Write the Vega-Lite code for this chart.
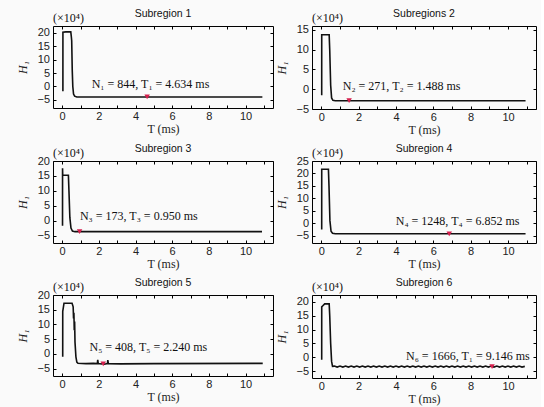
{
  "$schema": "https://vega.github.io/schema/vega-lite/v6.json",
  "background": "#fafafa",
  "padding": {"left": 16, "top": 8, "right": 4, "bottom": 2},
  "datasets": {
    "s1": [
      {"T": 0.04, "H": -1.8}, {"T": 0.041, "H": 20.2}, {"T": 0.2, "H": 20.3}, {"T": 0.47, "H": 20.3},
      {"T": 0.5, "H": 18.5}, {"T": 0.52, "H": 17}, {"T": 0.55, "H": 6}, {"T": 0.58, "H": 0},
      {"T": 0.62, "H": -2.8}, {"T": 0.68, "H": -3.6}, {"T": 0.8, "H": -3.9}, {"T": 10.92, "H": -3.9}
    ],
    "s2": [
      {"T": 0.02, "H": -1.5}, {"T": 0.021, "H": 13.8}, {"T": 0.42, "H": 13.8}, {"T": 0.45, "H": 10},
      {"T": 0.5, "H": 1}, {"T": 0.55, "H": -2.2}, {"T": 0.62, "H": -2.8}, {"T": 0.75, "H": -2.9},
      {"T": 10.94, "H": -2.9}
    ],
    "s3": [
      {"T": 0.02, "H": -1.7}, {"T": 0.021, "H": 17.6}, {"T": 0.03, "H": 15.2}, {"T": 0.34, "H": 15.2},
      {"T": 0.37, "H": 10}, {"T": 0.42, "H": 1}, {"T": 0.48, "H": -2.5}, {"T": 0.56, "H": -3.5},
      {"T": 0.7, "H": -3.7}, {"T": 10.9, "H": -3.7}
    ],
    "s4": [
      {"T": 0.02, "H": -2.6}, {"T": 0.021, "H": 21.7}, {"T": 0.38, "H": 21.7}, {"T": 0.41, "H": 15},
      {"T": 0.46, "H": 1}, {"T": 0.52, "H": -3.3}, {"T": 0.6, "H": -4.1}, {"T": 0.75, "H": -4.3},
      {"T": 10.94, "H": -4.3}
    ],
    "s5": [
      {"T": 0.03, "H": -1.0}, {"T": 0.031, "H": 14.4}, {"T": 0.1, "H": 17.2}, {"T": 0.54, "H": 17.2},
      {"T": 0.6, "H": 16}, {"T": 0.62, "H": 12}, {"T": 0.64, "H": 14}, {"T": 0.66, "H": 8},
      {"T": 0.68, "H": 11}, {"T": 0.7, "H": 4}, {"T": 0.75, "H": -1}, {"T": 0.8, "H": -2.8},
      {"T": 0.86, "H": -3.2}, {"T": 1.3, "H": -3.3}, {"T": 1.7, "H": -3.2}, {"T": 1.92, "H": -3.3},
      {"T": 1.94, "H": -2.0}, {"T": 1.97, "H": -3.3}, {"T": 2.15, "H": -3.4}, {"T": 2.24, "H": -3.1},
      {"T": 2.3, "H": -3.5}, {"T": 2.47, "H": -3.3}, {"T": 2.49, "H": -2.1}, {"T": 2.52, "H": -3.3},
      {"T": 3.2, "H": -3.4}, {"T": 5, "H": -3.3}, {"T": 10.94, "H": -3.2}
    ],
    "s6": [
      {"T": 0.02, "H": -0.9}, {"T": 0.021, "H": 18.2}, {"T": 0.08, "H": 18.6}, {"T": 0.18, "H": 19.3},
      {"T": 0.42, "H": 19.3}, {"T": 0.45, "H": 15}, {"T": 0.5, "H": 5}, {"T": 0.55, "H": -1.5},
      {"T": 0.6, "H": -3.3},
      {"T": 0.7, "H": -3.2}, {"T": 0.85, "H": -3.55}, {"T": 1.0, "H": -3.2}, {"T": 1.15, "H": -3.55},
      {"T": 1.3, "H": -3.2}, {"T": 1.45, "H": -3.55}, {"T": 1.6, "H": -3.2}, {"T": 1.75, "H": -3.55},
      {"T": 1.9, "H": -3.2}, {"T": 2.05, "H": -3.55}, {"T": 2.2, "H": -3.2}, {"T": 2.35, "H": -3.55},
      {"T": 2.5, "H": -3.2}, {"T": 2.65, "H": -3.55}, {"T": 2.8, "H": -3.2}, {"T": 2.95, "H": -3.55},
      {"T": 3.1, "H": -3.2}, {"T": 3.25, "H": -3.55}, {"T": 3.4, "H": -3.2}, {"T": 3.55, "H": -3.55},
      {"T": 3.7, "H": -3.2}, {"T": 3.85, "H": -3.55}, {"T": 4.0, "H": -3.2}, {"T": 4.15, "H": -3.55},
      {"T": 4.3, "H": -3.2}, {"T": 4.45, "H": -3.55}, {"T": 4.6, "H": -3.2}, {"T": 4.75, "H": -3.55},
      {"T": 4.9, "H": -3.2}, {"T": 5.05, "H": -3.55}, {"T": 5.2, "H": -3.2}, {"T": 5.35, "H": -3.55},
      {"T": 5.5, "H": -3.2}, {"T": 5.65, "H": -3.55}, {"T": 5.8, "H": -3.2}, {"T": 5.95, "H": -3.55},
      {"T": 6.1, "H": -3.2}, {"T": 6.25, "H": -3.55}, {"T": 6.4, "H": -3.2}, {"T": 6.55, "H": -3.55},
      {"T": 6.7, "H": -3.2}, {"T": 6.85, "H": -3.55}, {"T": 7.0, "H": -3.2}, {"T": 7.15, "H": -3.55},
      {"T": 7.3, "H": -3.2}, {"T": 7.45, "H": -3.55}, {"T": 7.6, "H": -3.2}, {"T": 7.75, "H": -3.55},
      {"T": 7.9, "H": -3.2}, {"T": 8.05, "H": -3.55}, {"T": 8.2, "H": -3.2}, {"T": 8.35, "H": -3.55},
      {"T": 8.5, "H": -3.2}, {"T": 8.65, "H": -3.55}, {"T": 8.8, "H": -3.2}, {"T": 8.95, "H": -3.55},
      {"T": 9.1, "H": -3.2}, {"T": 9.25, "H": -3.55}, {"T": 9.4, "H": -3.2}, {"T": 9.55, "H": -3.55},
      {"T": 9.7, "H": -3.2}, {"T": 9.85, "H": -3.55}, {"T": 10.0, "H": -3.2}, {"T": 10.15, "H": -3.55},
      {"T": 10.3, "H": -3.2}, {"T": 10.45, "H": -3.55}, {"T": 10.6, "H": -3.2}, {"T": 10.75, "H": -3.55},
      {"T": 10.9, "H": -3.3}
    ],
    "markers": [
      {"panel": 1, "T": 4.634, "H": -3.9},
      {"panel": 2, "T": 1.488, "H": -2.9},
      {"panel": 3, "T": 0.95, "H": -3.7},
      {"panel": 4, "T": 6.852, "H": -4.3},
      {"panel": 5, "T": 2.24, "H": -3.4},
      {"panel": 6, "T": 9.146, "H": -3.4}
    ],
    "labels": [
      {"panel": 1, "T": 4.82, "H": 1.0, "label": "N₁ = 844, T₁ = 4.634 ms"},
      {"panel": 2, "T": 4.3, "H": 0.8, "label": "N₂ = 271, T₂ = 1.488 ms"},
      {"panel": 3, "T": 4.18, "H": 1.4, "label": "N₃ = 173, T₃ = 0.950 ms"},
      {"panel": 4, "T": 7.3, "H": 1.0, "label": "N₄ = 1248, T₄ = 6.852 ms"},
      {"panel": 5, "T": 4.7, "H": 2.3, "label": "N₅ = 408, T₅ = 2.240 ms"},
      {"panel": 6, "T": 7.85, "H": 0.3, "label": "N₆ = 1666, T₁ = 9.146 ms"}
    ],
    "units": [
      {"panel": 1, "T": -0.5, "H": 22.5, "label": "(×10⁴)"},
      {"panel": 2, "T": -0.5, "H": 16, "label": "(×10⁴)"},
      {"panel": 3, "T": -0.5, "H": 20, "label": "(×10⁴)"},
      {"panel": 4, "T": -0.5, "H": 25, "label": "(×10⁴)"},
      {"panel": 5, "T": -0.5, "H": 20, "label": "(×10⁴)"},
      {"panel": 6, "T": -0.5, "H": 22.5, "label": "(×10⁴)"}
    ]
  },
  "config": {
    "view": {"stroke": "#000", "strokeWidth": 1},
    "axis": {
      "grid": false, "domain": false, "tickColor": "#000", "tickSize": 3, "offset": -3,
      "labelFont": "Liberation Sans", "labelFontSize": 11, "labelColor": "#222",
      "titleFont": "Liberation Serif", "titleFontSize": 12, "titleFontWeight": "normal", "titleColor": "#222"
    },
    "axisLeft": {"titlePadding": 7, "labelPadding": 3.5, "titleFontStyle": "italic"},
    "axisBottom": {"titlePadding": 2, "labelPadding": 2.5},
    "title": {"font": "Liberation Sans", "fontSize": 10.5, "fontWeight": "normal", "color": "#111", "offset": -7},
    "text": {"font": "Liberation Serif", "fontSize": 12, "color": "#111"},
    "line": {"color": "#111", "strokeWidth": 1.6}
  },
  "spacing": 7,
  "vconcat": [
    {
      "spacing": 1,
      "hconcat": [
        {
          "title": "Subregion 1", "width": 220, "height": 82,
          "encoding": {
            "x": {"field": "T", "type": "quantitative", "scale": {"domain": [-0.5, 11.5], "nice": false}, "axis": null},
            "y": {"field": "H", "type": "quantitative", "scale": {"domain": [-8, 22.5], "nice": false, "zero": false}, "axis": null}
          },
          "layer": [
            {"data": {"name": "s1"}, "mark": "line", "encoding": {
              "x": {"field": "T", "type": "quantitative", "scale": {"domain": [-0.5, 11.5], "nice": false}, "axis": {"orient": "bottom", "values": [0,1,2,3,4,5,6,7,8,9,10,11], "labelExpr": "datum.value % 2 === 0 ? datum.label : ''", "title": "T (ms)"}},
              "y": {"field": "H", "type": "quantitative", "scale": {"domain": [-8, 22.5], "nice": false, "zero": false}, "axis": {"orient": "left", "values": [-5,0,5,10,15,20], "title": "H₁"}}}},
            {"data": {"name": "s1"}, "mark": {"type": "line", "opacity": 0}, "encoding": {
              "x": {"field": "T", "type": "quantitative", "scale": {"domain": [-0.5, 11.5], "nice": false}, "axis": {"orient": "top", "values": [0,1,2,3,4,5,6,7,8,9,10,11], "labels": false, "title": null}},
              "y": {"field": "H", "type": "quantitative", "scale": {"domain": [-8, 22.5], "nice": false, "zero": false}, "axis": {"orient": "right", "values": [-5,0,5,10,15,20], "labels": false, "title": null}}}},
            {"data": {"name": "markers"}, "transform": [{"filter": "datum.panel === 1"}], "mark": {"type": "point", "shape": "triangle-down", "filled": true, "color": "#d6204e", "size": 30, "opacity": 1}},
            {"data": {"name": "labels"}, "transform": [{"filter": "datum.panel === 1"}], "mark": {"type": "text"}, "encoding": {"text": {"field": "label"}}},
            {"data": {"name": "units"}, "transform": [{"filter": "datum.panel === 1"}], "mark": {"type": "text", "align": "left", "baseline": "bottom", "dy": -1, "fontSize": 12}, "encoding": {"text": {"field": "label"}}}
          ],
          "resolve": {"axis": {"x": "independent", "y": "independent"}}
        },
        {
          "title": "Subregions 2", "width": 224, "height": 83,
          "encoding": {
            "x": {"field": "T", "type": "quantitative", "scale": {"domain": [-0.5, 11.5], "nice": false}, "axis": null},
            "y": {"field": "H", "type": "quantitative", "scale": {"domain": [-5, 16], "nice": false, "zero": false}, "axis": null}
          },
          "layer": [
            {"data": {"name": "s2"}, "mark": "line", "encoding": {
              "x": {"field": "T", "type": "quantitative", "scale": {"domain": [-0.5, 11.5], "nice": false}, "axis": {"orient": "bottom", "values": [0,1,2,3,4,5,6,7,8,9,10,11], "labelExpr": "datum.value % 2 === 0 ? datum.label : ''", "title": "T (ms)"}},
              "y": {"field": "H", "type": "quantitative", "scale": {"domain": [-5, 16], "nice": false, "zero": false}, "axis": {"orient": "left", "values": [-5,0,5,10,15], "title": "H₁"}}}},
            {"data": {"name": "s2"}, "mark": {"type": "line", "opacity": 0}, "encoding": {
              "x": {"field": "T", "type": "quantitative", "scale": {"domain": [-0.5, 11.5], "nice": false}, "axis": {"orient": "top", "values": [0,1,2,3,4,5,6,7,8,9,10,11], "labels": false, "title": null}},
              "y": {"field": "H", "type": "quantitative", "scale": {"domain": [-5, 16], "nice": false, "zero": false}, "axis": {"orient": "right", "values": [-5,0,5,10,15], "labels": false, "title": null}}}},
            {"data": {"name": "markers"}, "transform": [{"filter": "datum.panel === 2"}], "mark": {"type": "point", "shape": "triangle-down", "filled": true, "color": "#d6204e", "size": 30, "opacity": 1}},
            {"data": {"name": "labels"}, "transform": [{"filter": "datum.panel === 2"}], "mark": {"type": "text"}, "encoding": {"text": {"field": "label"}}},
            {"data": {"name": "units"}, "transform": [{"filter": "datum.panel === 2"}], "mark": {"type": "text", "align": "left", "baseline": "bottom", "dy": -1, "fontSize": 12}, "encoding": {"text": {"field": "label"}}}
          ],
          "resolve": {"axis": {"x": "independent", "y": "independent"}}
        }
      ]
    },
    {
      "spacing": 1,
      "hconcat": [
        {
          "title": "Subregion 3", "width": 220, "height": 82,
          "encoding": {
            "x": {"field": "T", "type": "quantitative", "scale": {"domain": [-0.5, 11.5], "nice": false}, "axis": null},
            "y": {"field": "H", "type": "quantitative", "scale": {"domain": [-7.5, 20], "nice": false, "zero": false}, "axis": null}
          },
          "layer": [
            {"data": {"name": "s3"}, "mark": "line", "encoding": {
              "x": {"field": "T", "type": "quantitative", "scale": {"domain": [-0.5, 11.5], "nice": false}, "axis": {"orient": "bottom", "values": [0,1,2,3,4,5,6,7,8,9,10,11], "labelExpr": "datum.value % 2 === 0 ? datum.label : ''", "title": "T (ms)"}},
              "y": {"field": "H", "type": "quantitative", "scale": {"domain": [-7.5, 20], "nice": false, "zero": false}, "axis": {"orient": "left", "values": [-5,0,5,10,15,20], "title": "H₁"}}}},
            {"data": {"name": "s3"}, "mark": {"type": "line", "opacity": 0}, "encoding": {
              "x": {"field": "T", "type": "quantitative", "scale": {"domain": [-0.5, 11.5], "nice": false}, "axis": {"orient": "top", "values": [0,1,2,3,4,5,6,7,8,9,10,11], "labels": false, "title": null}},
              "y": {"field": "H", "type": "quantitative", "scale": {"domain": [-7.5, 20], "nice": false, "zero": false}, "axis": {"orient": "right", "values": [-5,0,5,10,15,20], "labels": false, "title": null}}}},
            {"data": {"name": "markers"}, "transform": [{"filter": "datum.panel === 3"}], "mark": {"type": "point", "shape": "triangle-down", "filled": true, "color": "#d6204e", "size": 30, "opacity": 1}},
            {"data": {"name": "labels"}, "transform": [{"filter": "datum.panel === 3"}], "mark": {"type": "text"}, "encoding": {"text": {"field": "label"}}},
            {"data": {"name": "units"}, "transform": [{"filter": "datum.panel === 3"}], "mark": {"type": "text", "align": "left", "baseline": "bottom", "dy": -1, "fontSize": 12}, "encoding": {"text": {"field": "label"}}}
          ],
          "resolve": {"axis": {"x": "independent", "y": "independent"}}
        },
        {
          "title": "Subregion 4", "width": 224, "height": 82,
          "encoding": {
            "x": {"field": "T", "type": "quantitative", "scale": {"domain": [-0.5, 11.5], "nice": false}, "axis": null},
            "y": {"field": "H", "type": "quantitative", "scale": {"domain": [-8, 25], "nice": false, "zero": false}, "axis": null}
          },
          "layer": [
            {"data": {"name": "s4"}, "mark": "line", "encoding": {
              "x": {"field": "T", "type": "quantitative", "scale": {"domain": [-0.5, 11.5], "nice": false}, "axis": {"orient": "bottom", "values": [0,1,2,3,4,5,6,7,8,9,10,11], "labelExpr": "datum.value % 2 === 0 ? datum.label : ''", "title": "T (ms)"}},
              "y": {"field": "H", "type": "quantitative", "scale": {"domain": [-8, 25], "nice": false, "zero": false}, "axis": {"orient": "left", "values": [-5,0,5,10,15,20,25], "title": "H₁"}}}},
            {"data": {"name": "s4"}, "mark": {"type": "line", "opacity": 0}, "encoding": {
              "x": {"field": "T", "type": "quantitative", "scale": {"domain": [-0.5, 11.5], "nice": false}, "axis": {"orient": "top", "values": [0,1,2,3,4,5,6,7,8,9,10,11], "labels": false, "title": null}},
              "y": {"field": "H", "type": "quantitative", "scale": {"domain": [-8, 25], "nice": false, "zero": false}, "axis": {"orient": "right", "values": [-5,0,5,10,15,20,25], "labels": false, "title": null}}}},
            {"data": {"name": "markers"}, "transform": [{"filter": "datum.panel === 4"}], "mark": {"type": "point", "shape": "triangle-down", "filled": true, "color": "#d6204e", "size": 30, "opacity": 1}},
            {"data": {"name": "labels"}, "transform": [{"filter": "datum.panel === 4"}], "mark": {"type": "text"}, "encoding": {"text": {"field": "label"}}},
            {"data": {"name": "units"}, "transform": [{"filter": "datum.panel === 4"}], "mark": {"type": "text", "align": "left", "baseline": "bottom", "dy": -1, "fontSize": 12}, "encoding": {"text": {"field": "label"}}}
          ],
          "resolve": {"axis": {"x": "independent", "y": "independent"}}
        }
      ]
    },
    {
      "spacing": 1,
      "hconcat": [
        {
          "title": "Subregion 5", "width": 220, "height": 81,
          "encoding": {
            "x": {"field": "T", "type": "quantitative", "scale": {"domain": [-0.5, 11.5], "nice": false}, "axis": null},
            "y": {"field": "H", "type": "quantitative", "scale": {"domain": [-7.5, 20], "nice": false, "zero": false}, "axis": null}
          },
          "layer": [
            {"data": {"name": "s5"}, "mark": "line", "encoding": {
              "x": {"field": "T", "type": "quantitative", "scale": {"domain": [-0.5, 11.5], "nice": false}, "axis": {"orient": "bottom", "values": [0,1,2,3,4,5,6,7,8,9,10,11], "labelExpr": "datum.value % 2 === 0 ? datum.label : ''", "title": "T (ms)"}},
              "y": {"field": "H", "type": "quantitative", "scale": {"domain": [-7.5, 20], "nice": false, "zero": false}, "axis": {"orient": "left", "values": [-5,0,5,10,15,20], "title": "H₁"}}}},
            {"data": {"name": "s5"}, "mark": {"type": "line", "opacity": 0}, "encoding": {
              "x": {"field": "T", "type": "quantitative", "scale": {"domain": [-0.5, 11.5], "nice": false}, "axis": {"orient": "top", "values": [0,1,2,3,4,5,6,7,8,9,10,11], "labels": false, "title": null}},
              "y": {"field": "H", "type": "quantitative", "scale": {"domain": [-7.5, 20], "nice": false, "zero": false}, "axis": {"orient": "right", "values": [-5,0,5,10,15,20], "labels": false, "title": null}}}},
            {"data": {"name": "markers"}, "transform": [{"filter": "datum.panel === 5"}], "mark": {"type": "point", "shape": "triangle-down", "filled": true, "color": "#d6204e", "size": 30, "opacity": 1}},
            {"data": {"name": "labels"}, "transform": [{"filter": "datum.panel === 5"}], "mark": {"type": "text"}, "encoding": {"text": {"field": "label"}}},
            {"data": {"name": "units"}, "transform": [{"filter": "datum.panel === 5"}], "mark": {"type": "text", "align": "left", "baseline": "bottom", "dy": -1, "fontSize": 12}, "encoding": {"text": {"field": "label"}}}
          ],
          "resolve": {"axis": {"x": "independent", "y": "independent"}}
        },
        {
          "title": "Subregion 6", "width": 224, "height": 83,
          "encoding": {
            "x": {"field": "T", "type": "quantitative", "scale": {"domain": [-0.5, 11.5], "nice": false}, "axis": null},
            "y": {"field": "H", "type": "quantitative", "scale": {"domain": [-7.5, 22.5], "nice": false, "zero": false}, "axis": null}
          },
          "layer": [
            {"data": {"name": "s6"}, "mark": "line", "encoding": {
              "x": {"field": "T", "type": "quantitative", "scale": {"domain": [-0.5, 11.5], "nice": false}, "axis": {"orient": "bottom", "values": [0,1,2,3,4,5,6,7,8,9,10,11], "labelExpr": "datum.value % 2 === 0 ? datum.label : ''", "title": "T (ms)"}},
              "y": {"field": "H", "type": "quantitative", "scale": {"domain": [-7.5, 22.5], "nice": false, "zero": false}, "axis": {"orient": "left", "values": [-5,0,5,10,15,20], "title": "H₁"}}}},
            {"data": {"name": "s6"}, "mark": {"type": "line", "opacity": 0}, "encoding": {
              "x": {"field": "T", "type": "quantitative", "scale": {"domain": [-0.5, 11.5], "nice": false}, "axis": {"orient": "top", "values": [0,1,2,3,4,5,6,7,8,9,10,11], "labels": false, "title": null}},
              "y": {"field": "H", "type": "quantitative", "scale": {"domain": [-7.5, 22.5], "nice": false, "zero": false}, "axis": {"orient": "right", "values": [-5,0,5,10,15,20], "labels": false, "title": null}}}},
            {"data": {"name": "markers"}, "transform": [{"filter": "datum.panel === 6"}], "mark": {"type": "point", "shape": "triangle-down", "filled": true, "color": "#d6204e", "size": 30, "opacity": 1}},
            {"data": {"name": "labels"}, "transform": [{"filter": "datum.panel === 6"}], "mark": {"type": "text"}, "encoding": {"text": {"field": "label"}}},
            {"data": {"name": "units"}, "transform": [{"filter": "datum.panel === 6"}], "mark": {"type": "text", "align": "left", "baseline": "bottom", "dy": -1, "fontSize": 12}, "encoding": {"text": {"field": "label"}}}
          ],
          "resolve": {"axis": {"x": "independent", "y": "independent"}}
        }
      ]
    }
  ]
}
